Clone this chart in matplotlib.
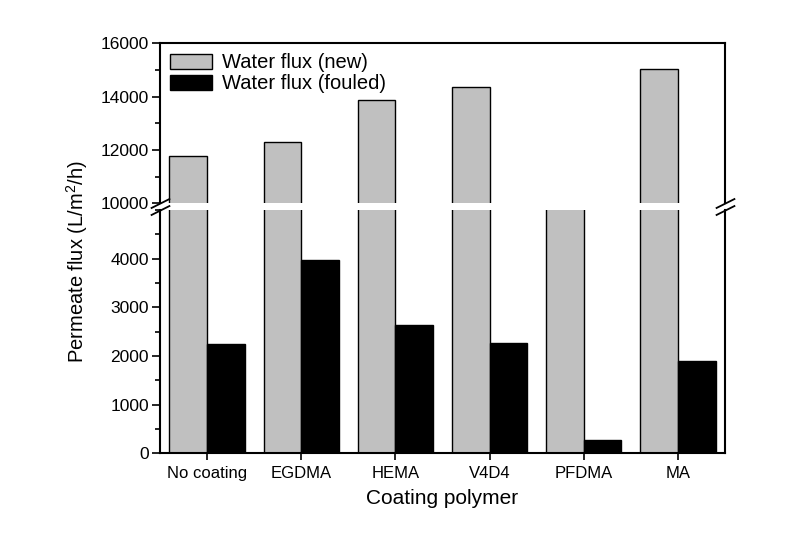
import matplotlib
matplotlib.use("Agg")
import matplotlib.pyplot as plt
from matplotlib.ticker import MultipleLocator

plt.rcParams['font.family'] = ['Liberation Sans', 'DejaVu Sans']
plt.rcParams['mathtext.default'] = 'regular'

# data
polymers = ["No coating", "EGDMA", "HEMA", "V4D4", "PFDMA", "MA"]
flux_new = [11780, 12300, 13880, 14360, 9500, 15040]
flux_fouled = [2250, 3970, 2640, 2270, 270, 1900]

x = list(range(len(polymers)))
w = 0.4

fig = plt.figure(figsize=(8.02, 5.38), dpi=100)
ax_low = fig.add_axes([0.1995, 0.1574, 0.7045, 0.4522])
ax_up = fig.add_axes([0.1995, 0.6221, 0.7045, 0.2974])

for ax in (ax_low, ax_up):
    ax.bar([i - w / 2 for i in x], flux_new, width=w, color="#c0c0c0",
           edgecolor="black", linewidth=1.0, label="Water flux (new)")
    ax.bar([i + w / 2 for i in x], flux_fouled, width=w, color="black",
           edgecolor="black", linewidth=1.0, label="Water flux (fouled)")
    ax.set_xlim(-0.5, 5.5)
    for s in ax.spines.values():
        s.set_linewidth(1.5)
    ax.tick_params(axis='y', which='major', direction='out', length=6, width=1.2,
                   labelsize=12.5, pad=2)
    ax.tick_params(axis='y', which='minor', direction='out', length=3.5, width=1.2)

ax_low.set_ylim(0, 5000)
ax_low.yaxis.set_major_locator(MultipleLocator(1000))
ax_low.yaxis.set_minor_locator(MultipleLocator(500))
ax_low.spines['top'].set_visible(False)
ax_low.set_xticks(x)
ax_low.set_xticklabels(polymers)
ax_low.tick_params(axis='x', direction='out', length=5, width=1.2, labelsize=12, pad=4)
ax_low.set_xlabel("Coating polymer", fontsize=15, labelpad=6)
ax_low.set_yticks([0, 1000, 2000, 3000, 4000])

ax_up.set_ylim(10000, 16000)
ax_up.yaxis.set_major_locator(MultipleLocator(2000))
ax_up.yaxis.set_minor_locator(MultipleLocator(1000))
ax_up.spines['bottom'].set_visible(False)
ax_up.set_xticks([])

# break marks on both side spines
kw = dict(marker=[(-1, -0.5), (1, 0.5)], markersize=14, linestyle='none',
          color='k', mec='k', mew=1.3, clip_on=False)
ax_low.plot([0, 1], [1, 1], transform=ax_low.transAxes, **kw)
ax_up.plot([0, 1], [0, 0], transform=ax_up.transAxes, **kw)

ax_up.legend(loc="upper left", frameon=False, fontsize=14.5, handlelength=2.1,
             handleheight=0.75, labelspacing=0.1, handletextpad=0.5,
             borderaxespad=0.3, borderpad=0.2)

fig.text(0.096, 0.513, "Permeate flux (L/m$^2$/h)", rotation=90,
         ha="center", va="center", fontsize=14.5)

fig.savefig("out.png", dpi=100)
